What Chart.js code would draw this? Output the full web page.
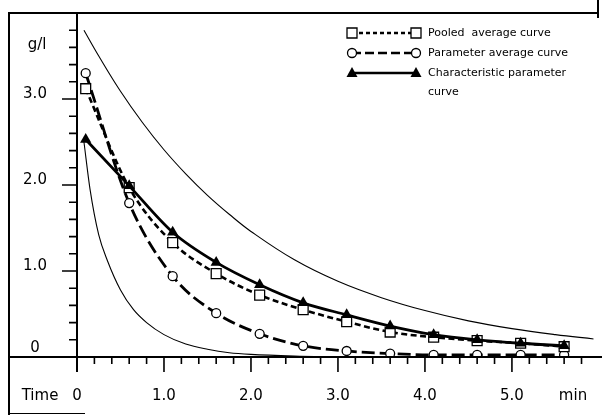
<!DOCTYPE html>
<html>
<head>
<meta charset="utf-8">
<title>Concentration curves</title>
<script src="https://cdn.jsdelivr.net/npm/chart.js@4/dist/chart.umd.min.js"></script>
<style>
html, body { margin: 0; padding: 0; background: #fff; }
canvas { display: block; }
</style>
</head>
<body>
<canvas id="chart" width="602" height="415"></canvas>
<script>
// sampling times (min) and concentrations (g/l)
const sampleTimes = [0.1, 0.6, 1.1, 1.6, 2.1, 2.6, 3.1, 3.6, 4.1, 4.6, 5.1, 5.6]
const pooledAverage = [3.12, 1.97, 1.33, 0.97, 0.72, 0.55, 0.41, 0.29, 0.23, 0.19, 0.16, 0.12]
const parameterAverage = [3.30, 1.79, 0.94, 0.51, 0.27, 0.13, 0.07, 0.04, 0.025, 0.025, 0.025, 0.025]
const characteristic = [2.53, 1.99, 1.45, 1.10, 0.84, 0.63, 0.49, 0.36, 0.26, 0.20, 0.16, 0.13]

// thin envelope curves
const upperTimes = [0.08, 0.25, 0.5, 0.75, 1.0, 1.25, 1.5, 1.75, 2.0, 2.5, 3.0, 3.5, 4.0, 4.5, 5.0, 5.5, 5.94]
const upperBound = [3.80, 3.50, 3.09, 2.73, 2.41, 2.13, 1.88, 1.66, 1.46, 1.13, 0.88, 0.69, 0.54, 0.42, 0.33, 0.26, 0.21]
const lowerTimes = [0.08, 0.15, 0.25, 0.35, 0.5, 0.65, 0.8, 1.0, 1.25, 1.5, 1.75, 2.0, 2.5, 3.0]
const lowerBound = [2.50, 1.95, 1.42, 1.12, 0.78, 0.55, 0.40, 0.26, 0.15, 0.09, 0.05, 0.03, 0.01, 0.0]

const xTicks = [0, 1, 2, 3, 4, 5]
const xTickLabels = ["0", "1.0", "2.0", "3.0", "4.0", "5.0"]
const yTicks = [0, 1, 2, 3]
const yTickLabels = ["0", "1.0", "2.0", "3.0"]
const legendLabels = ["Pooled  average curve", "Parameter average curve", "Characteristic parameter", "curve"]

const pts = (xs, ys) => xs.map((x, i) => ({x: x, y: ys[i]}))
const AXIS_FONT = '15px "DejaVu Sans", sans-serif'
const LEGEND_FONT = '11px "DejaVu Sans", sans-serif'

function marker(ctx, kind, x, y){
    ctx.save()
    ctx.setLineDash([])
    ctx.lineWidth = 1.3
    ctx.strokeStyle = '#000'
    ctx.beginPath()
    if(kind === 'rect'){
        ctx.rect(x - 5, y - 5, 10, 10)
        ctx.fillStyle = '#fff'; ctx.fill(); ctx.stroke()
    }else if(kind === 'circle'){
        ctx.arc(x, y, 4.5, 0, Math.PI * 2)
        ctx.fillStyle = '#fff'; ctx.fill(); ctx.stroke()
    }else{
        ctx.moveTo(x, y - 6); ctx.lineTo(x + 5.5, y + 4); ctx.lineTo(x - 5.5, y + 4); ctx.closePath()
        ctx.fillStyle = '#000'; ctx.fill()
    }
    ctx.restore()
}

// frame, hand-drawn style axes with minor/major ticks, labels and legend
const paperAxes = {
    id: 'paperAxes',
    afterDraw(chart){
        const {ctx, scales: {x, y}} = chart
        const x0 = x.getPixelForValue(0)
        const y0 = y.getPixelForValue(0)
        ctx.save()
        ctx.strokeStyle = '#000'
        ctx.fillStyle = '#000'

        // outer frame
        ctx.lineWidth = 2
        ctx.beginPath()
        ctx.moveTo(9, 415); ctx.lineTo(9, 13); ctx.lineTo(598, 13)
        ctx.moveTo(598, 0); ctx.lineTo(598, 18)
        ctx.stroke()
        ctx.lineWidth = 1
        ctx.beginPath()
        ctx.moveTo(9, 413.5); ctx.lineTo(85, 413.5)
        ctx.stroke()

        // axis lines
        ctx.lineWidth = 2
        ctx.beginPath()
        ctx.moveTo(9, y0); ctx.lineTo(602, y0)
        ctx.moveTo(x0, 13); ctx.lineTo(x0, y0 + 15)
        ctx.stroke()

        // x ticks every 0.2, long ones at whole minutes
        ctx.lineWidth = 1.6
        ctx.beginPath()
        for(let k = 1; k <= 29; k++){
            const px = x.getPixelForValue(k * 0.2)
            ctx.moveTo(px, y0); ctx.lineTo(px, y0 + (k % 5 === 0 ? 15 : 7))
        }
        // y ticks every 0.2, long ones at whole g/l
        for(let k = 1; k <= 19; k++){
            const py = y.getPixelForValue(k * 0.2)
            ctx.moveTo(x0, py); ctx.lineTo(x0 - (k % 5 === 0 ? 15 : 8), py)
        }
        ctx.stroke()

        ctx.font = AXIS_FONT
        ctx.textAlign = 'center'
        ctx.textBaseline = 'middle'
        xTicks.forEach((v, i) => ctx.fillText(xTickLabels[i], x.getPixelForValue(v), 396))
        yTicks.forEach((v, i) => ctx.fillText(yTickLabels[i], 35, y.getPixelForValue(v) - (v === 0 ? 9 : 5)))
        ctx.fillText("Time", 40, 396)
        ctx.fillText("min", 573, 396)
        ctx.fillText("g/l", 37, 45)

        // legend
        const rows = [
            {kind: 'rect', dash: [4, 3], width: 2.4, y: 33},
            {kind: 'circle', dash: [9, 4], width: 2.4, y: 53},
            {kind: 'triangle', dash: [], width: 2.6, y: 73}
        ]
        rows.forEach(r => {
            ctx.save()
            ctx.lineWidth = r.width
            ctx.setLineDash(r.dash)
            ctx.beginPath()
            ctx.moveTo(352, r.y); ctx.lineTo(416, r.y)
            ctx.stroke()
            ctx.restore()
            marker(ctx, r.kind, 352, r.y)
            marker(ctx, r.kind, 416, r.y)
        })
        ctx.font = LEGEND_FONT
        ctx.textAlign = 'left'
        legendLabels.forEach((t, i) => ctx.fillText(t, 428, [33, 53, 73, 92][i]))
        ctx.restore()
    }
}

new Chart(document.getElementById('chart'), {
    type: 'scatter',
    data: {
        datasets: [
            {
                label: 'Characteristic parameter curve',
                data: pts(sampleTimes, characteristic),
                showLine: true,
                borderColor: '#000',
                borderWidth: 2.8,
                pointStyle: 'triangle',
                pointRadius: 6.5,
                pointBackgroundColor: '#000',
                pointBorderColor: '#000',
                pointBorderWidth: 0,
                cubicInterpolationMode: 'monotone'
            },
            {
                label: 'Pooled average curve',
                data: pts(sampleTimes, pooledAverage),
                showLine: true,
                borderColor: '#000',
                borderWidth: 2.6,
                borderDash: [6, 3.5],
                pointStyle: 'rect',
                pointRadius: 7,
                pointBackgroundColor: '#fff',
                pointBorderColor: '#000',
                pointBorderWidth: 1.3,
                cubicInterpolationMode: 'monotone'
            },
            {
                label: 'Parameter average curve',
                data: pts(sampleTimes, parameterAverage),
                showLine: true,
                borderColor: '#000',
                borderWidth: 2.8,
                borderDash: [13, 5],
                pointStyle: 'circle',
                pointRadius: 4.5,
                pointBackgroundColor: '#fff',
                pointBorderColor: '#000',
                pointBorderWidth: 1.3,
                cubicInterpolationMode: 'monotone'
            },
            {
                label: 'upper',
                data: pts(upperTimes, upperBound),
                showLine: true,
                borderColor: '#000',
                borderWidth: 1.1,
                pointRadius: 0,
                tension: 0.4
            },
            {
                label: 'lower',
                data: pts(lowerTimes, lowerBound),
                showLine: true,
                borderColor: '#000',
                borderWidth: 1.1,
                pointRadius: 0,
                cubicInterpolationMode: 'monotone'
            }
        ]
    },
    options: {
        responsive: false,
        animation: false,
        events: [],
        layout: {padding: {left: 77, top: 13, right: 2, bottom: 58}},
        scales: {
            x: {type: 'linear', min: 0, max: 5.94, display: false},
            y: {type: 'linear', min: 0, max: 4.0, display: false}
        },
        plugins: {
            legend: {display: false},
            tooltip: {enabled: false}
        }
    },
    plugins: [paperAxes]
})
</script>
</body>
</html>
